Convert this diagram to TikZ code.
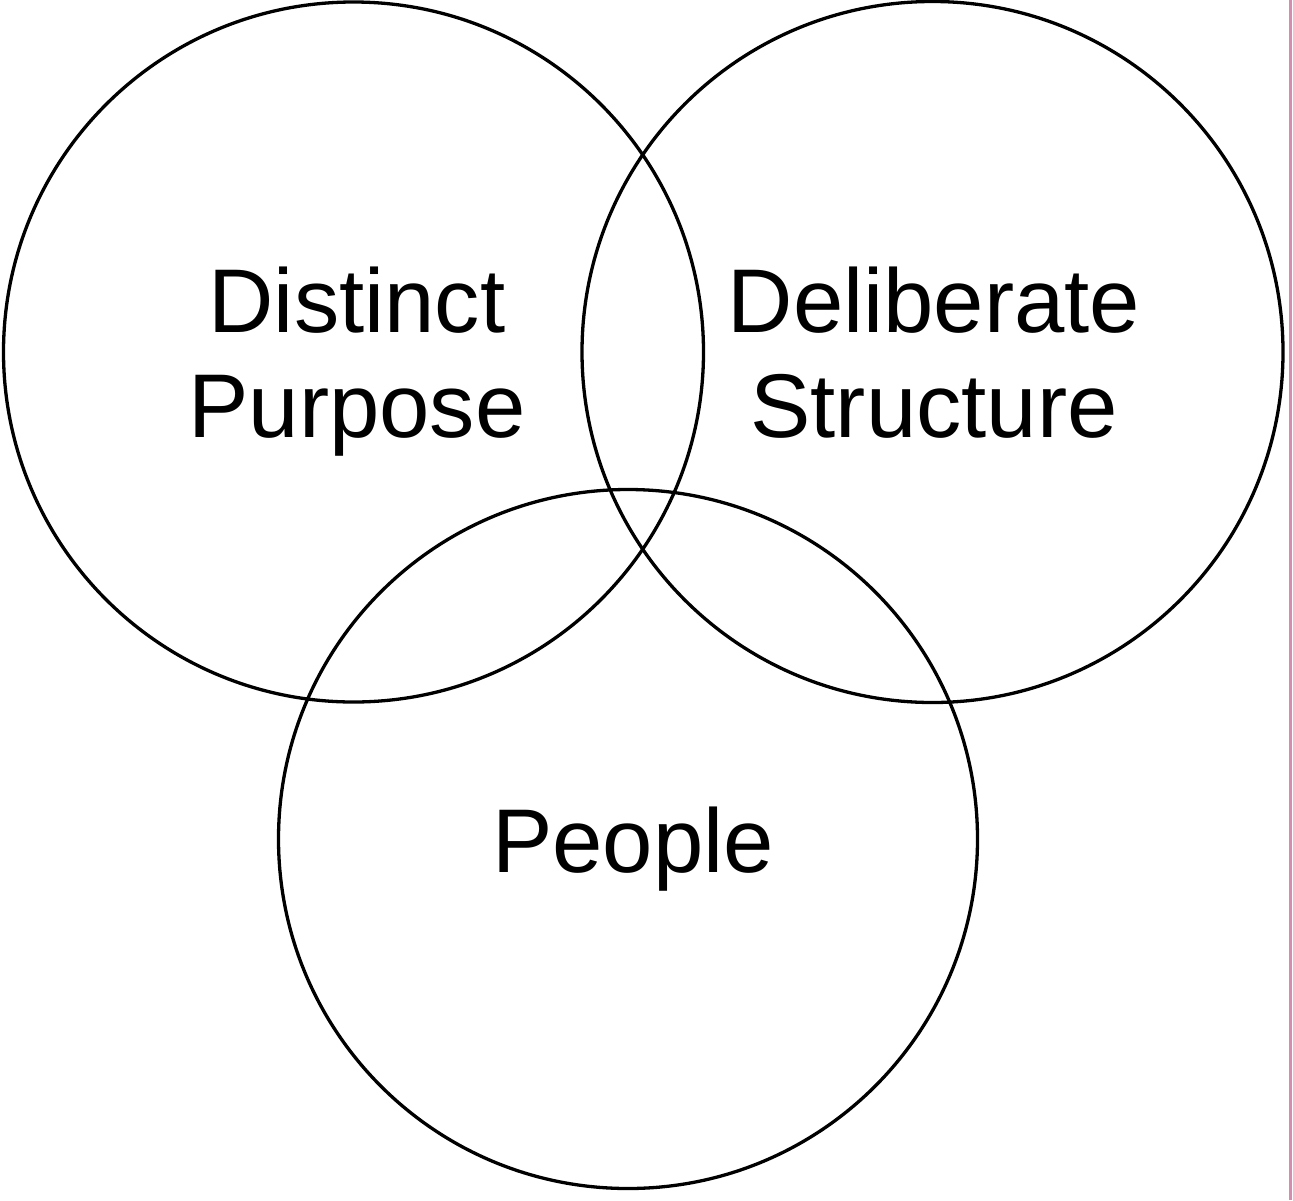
\documentclass[tikz,border=0pt]{standalone}
\usepackage{fontspec}
\setmainfont{Liberation Sans}
\definecolor{edgepink}{RGB}{215,140,175}
\begin{document}
\begin{tikzpicture}[x=1pt,y=-1pt,
  ring/.style={draw=black,line width=3.3pt},
  lbl/.style={anchor=base,inner sep=0pt,font=\fontsize{90.5}{105}\selectfont}]
\useasboundingbox (0,0) rectangle (1293,1200);
\fill[white] (0,0) rectangle (1293,1200);
\draw[edgepink,line width=2.5pt] (1290.5,0) -- (1290.5,1200);
\node[ring,circle,minimum size=700pt,inner sep=0pt] (pc) at (353.5,352) {};
\node[ring,circle,minimum size=701pt,inner sep=0pt] (sc) at (932.5,352) {};
\node[ring,circle,minimum size=699pt,inner sep=0pt] (ppl) at (628,839) {};
\node[lbl] (d1) at (357,332) {Distinct};
\node[lbl] (d2) at (357,437) {Purpose};
\node[lbl] (s1) at (934,332) {Deliberate};
\node[lbl] (s2) at (934,437) {Structure};
\node[lbl] (p1) at (633,872) {People};
\end{tikzpicture}
\end{document}
